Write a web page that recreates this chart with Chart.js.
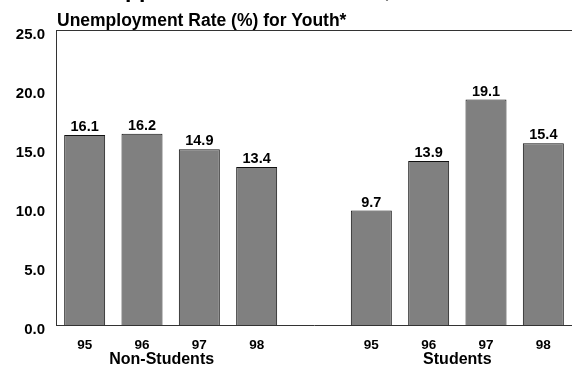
<!DOCTYPE html>
<html><head><meta charset="utf-8">
<script src="https://cdn.jsdelivr.net/npm/chart.js@4.4.1/dist/chart.umd.min.js"></script>
<style>html,body{margin:0;padding:0;background:#fff;overflow:hidden}canvas{display:block}</style>
</head><body>
<canvas id="c" width="572" height="367"></canvas>
<script>
const years = ['95', '96', '97', '98'];
const groups = ['Non-Students', 'Students'];
const nonStudents = [16.1, 16.2, 14.9, 13.4];
const students = [9.7, 13.9, 19.1, 15.4];
const yTicks = [0, 5, 10, 15, 20, 25];
const titleText = 'Opportunities Are Scarce, Students Hit Hard';
const subtitleText = 'Unemployment Rate (%) for Youth*';

const labels = [...years, '', ...years];
const values = [...nonStudents, null, ...students];
const FONT = '"Liberation Sans", Arial, Helvetica, sans-serif';
const groupShift = [-9, 0];

const decor = {
  id: 'decor',
  afterDatasetsDraw(chart) {
    const ctx = chart.ctx;
    ctx.save();
    ctx.fillStyle = '#000';
    ctx.font = `bold 14.5px ${FONT}`;
    ctx.textAlign = 'center';
    ctx.textBaseline = 'alphabetic';
    chart.getDatasetMeta(0).data.forEach((el, i) => {
      if (values[i] == null) return;
      ctx.fillText(values[i].toFixed(1), el.x, el.y - 4);
    });
    ctx.restore();
  },
  afterDraw(chart) {
    const {ctx, chartArea: a, scales: {x}} = chart;
    ctx.save();
    ctx.strokeStyle = '#333';
    ctx.lineWidth = 1;
    ctx.beginPath();
    ctx.moveTo(a.left, a.top + 0.5);
    ctx.lineTo(chart.width, a.top + 0.5);
    ctx.stroke();
    ctx.fillStyle = '#000';
    ctx.textAlign = 'left';
    ctx.textBaseline = 'alphabetic';
    ctx.font = `bold 23px ${FONT}`;
    ctx.fillText(titleText, 107, -3);
    ctx.font = `bold 17.5px ${FONT}`;
    ctx.fillText(subtitleText, a.left + 1, 26);
    ctx.font = `bold 16px ${FONT}`;
    ctx.textAlign = 'center';
    ctx.textBaseline = 'middle';
    groups.forEach((g, i) => {
      const base = i * (years.length + 1);
      const cx = (x.getPixelForValue(base) + x.getPixelForValue(base + years.length - 1)) / 2;
      ctx.fillText(g, cx + groupShift[i], 360);
    });
    ctx.restore();
  }
};

new Chart(document.getElementById('c'), {
  type: 'bar',
  data: {
    labels,
    datasets: [{
      data: values,
      backgroundColor: '#808080',
      borderColor: '#111',
      borderWidth: 1,
      barPercentage: 0.715,
      categoryPercentage: 1
    }]
  },
  options: {
    responsive: false,
    animation: false,
    devicePixelRatio: 1,
    layout: {padding: {top: 30, left: 0, right: 0, bottom: 0}},
    plugins: {legend: {display: false}, tooltip: {enabled: false}, title: {display: false}},
    scales: {
      x: {
        grid: {display: false, drawTicks: false},
        border: {display: true, color: '#333', width: 1},
        ticks: {font: {family: FONT, weight: 'bold', size: 13.5}, color: '#000', padding: 12, maxRotation: 0, autoSkip: false},
        afterFit(s) { s.height = 42; }
      },
      y: {
        min: 0, max: 25,
        grid: {display: false, drawTicks: false},
        border: {display: true, color: '#333', width: 1},
        afterBuildTicks(s) { s.ticks = yTicks.map(v => ({value: v})); },
        ticks: {font: {family: FONT, weight: 'bold', size: 15}, color: '#000', padding: 11, labelOffset: 5,
                callback: v => Number(v).toFixed(1)},
        afterFit(s) { s.width = 56; }
      }
    }
  },
  plugins: [decor]
});
</script>
</body></html>
